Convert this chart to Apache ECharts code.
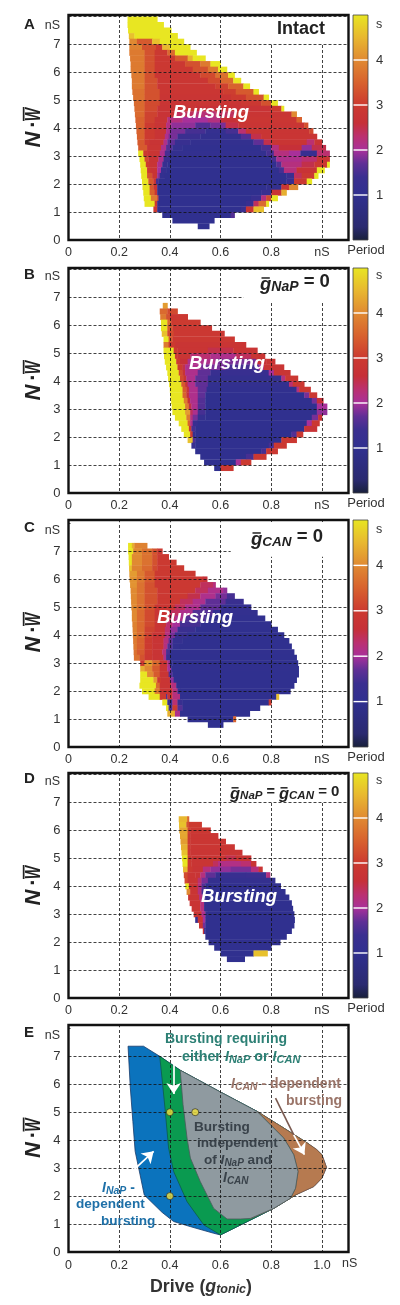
<!DOCTYPE html>
<html><head><meta charset="utf-8">
<style>html,body{margin:0;padding:0;background:#fff}#c{width:400px;height:1305px;filter:blur(.35px)}</style>
<script src="https://cdn.jsdelivr.net/npm/echarts@6/dist/echarts.min.js"></script>
</head><body><div id="c"></div>
<script>
// Row tables: [N*w row centre, x0, period, x1, period, x2, ...] -- each period spans the two drive values around it
const rowsA=[
[7.9,.233,5,.35],[7.7,.233,5,.375],[7.5,.235,5,.405],[7.3,.238,4.6,.26,5,.43],
[7.1,.24,4,.27,3.4,.33,4.6,.36,5,.455],[6.9,.24,3.9,.29,3.3,.345,3,.37,4.5,.40,5,.48],
[6.7,.24,3.8,.30,3.3,.34,2.95,.39,3.6,.42,5,.505],[6.5,.243,3.8,.30,3.3,.34,2.9,.42,3.4,.47,4.4,.49,5,.54],
[6.3,.245,3.8,.30,3.3,.34,2.9,.46,3.3,.52,3.8,.56,5,.60],[6.1,.245,3.8,.30,3.3,.34,2.9,.49,3.3,.55,3.8,.59,5,.625],
[5.9,.248,3.8,.30,3.3,.34,2.85,.52,3.2,.58,3.7,.63,5,.655],[5.7,.25,3.8,.30,3.3,.35,2.85,.55,3.2,.60,3.6,.65,5,.68],
[5.5,.25,3.8,.30,3.3,.35,2.85,.58,3.1,.63,3.5,.69,5,.715],[5.3,.252,3.7,.30,3.3,.36,2.85,.61,3.05,.66,3.4,.73,5,.75],
[5.1,.255,3.7,.30,3.3,.36,2.8,.64,3,.70,3.3,.77,5,.79],[4.9,.258,3.6,.30,3.2,.36,2.8,.68,2.9,.76,3.3,.80,5,.825],
[4.7,.26,3.6,.30,3.2,.35,2.75,.50,2.6,.60,2.7,.80,3,.84,5,.85],[4.5,.262,3.6,.30,3.1,.35,2.7,.42,2.4,.50,2.25,.58,2.4,.66,2.8,.88,4,.90],
[4.3,.264,3.5,.30,3.1,.34,2.75,.39,2.2,.45,2.0,.55,2.2,.60,2.6,.66,2.85,.90,3.5,.92],
[4.1,.266,3.5,.30,3,.34,2.75,.385,2.2,.405,1.9,.50,1.6,.56,1.8,.62,2.5,.67,2.8,.93,3.3,.945],
[3.9,.268,3.5,.30,3,.34,2.75,.385,2.1,.40,1.8,.46,1.5,.54,1.2,.62,1.5,.67,2.3,.70,2.8,.95,3.2,.965],
[3.7,.27,3.5,.30,3,.34,2.75,.38,2.1,.395,1.8,.43,1.4,.52,1.1,.68,1.6,.72,2.5,.76,2.8,.98],
[3.5,.272,3.4,.30,3,.32,2.75,.375,2.1,.39,1.7,.42,1.3,.48,1.1,.73,1.7,.77,2.5,.80,2.8,.94,2.3,.97,2.8,1.0],
[3.3,.275,3.4,.31,2.8,.365,2.1,.385,1.6,.41,1.2,.45,1.05,.76,1.5,.80,2.2,.83,2.6,.92,1.9,.96,2.5,1.015],
[3.1,.275,5,.295,3,.31,2.8,.36,2.1,.38,1.5,.40,1.1,.78,1.5,.81,2.2,.87,2.0,.915,1.3,.98,2.3,1.03],
[2.9,.28,5,.30,3.2,.315,2.75,.355,2.1,.375,1.4,.40,1.05,.80,1.5,.82,2.1,.92,2.3,.98,2.8,1.03],
[2.7,.283,5,.305,3,.32,2.75,.35,2.1,.37,1.3,.39,1.05,.82,1.6,.84,2.2,.92,2.5,.97,2.9,1.02,5,1.03],
[2.5,.285,5,.31,2.9,.325,2.75,.35,2.0,.365,1.2,.385,1.0,.83,1.5,.85,2.2,.90,2.7,.98,5,1.01],
[2.3,.287,5,.31,3.3,.33,2.75,.35,1.9,.36,1.1,.38,1.0,.86,1.4,.89,2.4,.92,2.9,.97,5,.985],
[2.1,.29,5,.315,3.4,.335,2.8,.345,1.5,.355,1.0,.86,1.3,.89,2.9,.94,5,.96],
[1.9,.292,5,.32,3.4,.335,2.8,.35,1.0,.78,1.1,.84,2.8,.87,4,.905],[1.7,.295,5,.32,3.5,.34,2.8,.35,1.0,.76,1.3,.80,2.8,.84,4.4,.86],
[1.5,.297,5,.325,3.8,.35,2.9,.355,1.0,.72,1.3,.76,2.2,.78,3.2,.80,5,.825],[1.3,.30,5,.34,2.9,.35,1.1,.36,1.0,.70,1.3,.73,2.4,.75,3.6,.78,5,.79],
[1.1,.335,3,.35,1.0,.68,1.4,.70,2.8,.73,4.6,.77],[.9,.37,1,.64,1.6,.655],[.7,.41,1,.575],[.5,.51,1,.555]];
const rowsB=[
[6.7,.372,4.2,.39],[6.5,.36,3.6,.39,3.2,.43],[6.3,.362,3.8,.385,3.3,.40,2.9,.47],[6.1,.365,5,.39,3.6,.405,3,.52],
[5.9,.365,5,.39,3.4,.41,2.9,.565],[5.7,.368,4.6,.39,3.2,.415,2.9,.615],[5.5,.375,5,.395,3.4,.41,2.9,.655],[5.3,.375,3.8,.395,3,.42,2.8,.70],
[5.1,.375,5,.415,3,.43,2.8,.55,2.5,.65,2.8,.745],[4.9,.377,5,.42,3,.43,2.8,.48,2.3,.56,2.1,.66,2.4,.72,2.8,.775],
[4.7,.38,5,.425,3,.44,2.6,.47,2.1,.58,1.8,.68,1.8,.74,2.6,.78,2.8,.815],[4.5,.385,5,.43,3,.45,2.5,.46,2.1,.52,1.8,.62,1.5,.75,2.0,.77,2.8,.85],
[4.3,.39,5,.435,3.2,.45,2.7,.46,2.1,.51,1.7,.56,1.3,.79,2,.81,2.8,.875],[4.1,.393,5,.44,3.2,.455,2.7,.465,2.1,.50,1.7,.55,1.15,.84,2.2,.855,2.9,.905],
[3.9,.397,5,.445,3.4,.46,2.7,.47,2.1,.50,1.7,.55,1.1,.87,2.3,.885,2.9,.93],[3.7,.40,5,.45,3.4,.465,2.7,.475,2.1,.51,1.7,.545,1.05,.90,2.2,.91,2.9,.955],
[3.5,.402,5,.45,3.5,.465,2.6,.475,2.1,.51,1.7,.54,1.0,.93,1.8,.95,2.9,.98],[3.3,.405,5,.455,3.8,.47,2.6,.48,2.1,.51,1.6,.54,1.0,.96,1.8,.98,2.6,1.005],
[3.1,.407,5,.46,3.8,.475,2.5,.485,2.1,.51,1.6,.54,1.0,.98,2.0,1.02],[2.9,.41,5,.46,4.2,.48,2.4,.49,2.1,.51,1.5,.54,1.0,.98,1.9,1.02],
[2.7,.42,5,.465,3.8,.48,2.2,.49,1.8,.51,1.2,.54,1.0,.96,1.8,.985,2.7,1.0],[2.5,.435,5,.47,3.5,.48,2.1,.49,1.3,.51,1.0,.94,2.0,.96,2.9,.99],
[2.3,.445,5,.475,2.9,.485,1.5,.50,1.0,.93,2.7,.98],[2.1,.455,5,.48,3,.49,1.2,.50,1.0,.88,1.6,.90,2.9,.925],
[1.9,.47,4.6,.49,1.6,.50,1,.84,2.9,.90],[1.7,.485,1.3,.50,1,.79,1.5,.81,2.9,.86],[1.5,.50,1,.76,1.5,.78,2.9,.825],
[1.3,.52,1,.70,1.5,.73,2.9,.78],[1.1,.535,1,.66,2.0,.68,3,.72],[.9,.575,1,.60,2.9,.65]];
const rowsC=[
[7.2,.235,5,.25,4.4,.26,3.9,.31],[7.0,.235,5,.255,4,.29,3.7,.33,3.3,.35,2.95,.37],[6.8,.237,5,.25,4,.29,3.7,.33,3.3,.35,2.95,.395],
[6.6,.238,5,.25,4,.29,3.7,.33,3.3,.35,2.95,.425],[6.4,.239,4.6,.25,3.9,.29,3.6,.33,3.2,.35,2.95,.455],[6.2,.24,4.2,.27,3.8,.30,3.4,.34,2.95,.50],
[6.0,.241,4.1,.27,3.8,.30,3.4,.34,2.9,.53,2.6,.547],[5.8,.243,4.1,.27,3.7,.30,3.3,.34,2.9,.52,2.4,.57,2.2,.58],
[5.6,.245,4,.27,3.7,.30,3.3,.35,2.9,.50,2.4,.55,2.1,.61,1.9,.625],[5.4,.246,4,.27,3.7,.30,3.3,.35,2.9,.47,2.5,.52,2.1,.58,1.8,.625,1.5,.655],
[5.2,.247,4,.27,3.7,.30,3.3,.35,2.9,.44,2.4,.49,2.1,.54,1.7,.62,1.35,.69],[5.0,.248,4,.27,3.7,.30,3.3,.34,2.85,.42,2.4,.46,2.1,.52,1.7,.60,1.2,.72],
[4.8,.25,4,.27,3.6,.30,3.2,.34,2.8,.40,2.4,.44,2.1,.49,1.6,.57,1.1,.745],[4.6,.25,4,.27,3.6,.30,3.2,.34,2.8,.39,2.4,.42,2.1,.46,1.6,.54,1.05,.775],
[4.4,.252,3.9,.27,3.6,.30,3.2,.34,2.8,.385,2.3,.41,2.0,.44,1.5,.52,1.0,.80],[4.2,.253,3.9,.27,3.6,.30,3.1,.34,2.8,.38,2.3,.40,1.9,.43,1.4,.50,1.0,.825],
[4.0,.254,3.9,.27,3.6,.30,3.1,.33,2.75,.38,2.2,.40,1.8,.42,1.3,.47,1,.85],[3.8,.255,3.8,.27,3.5,.30,3,.33,2.75,.375,2.2,.395,1.7,.41,1.2,.45,1,.87],
[3.6,.256,3.8,.27,3.5,.30,3,.33,2.75,.375,2.2,.39,1.6,.41,1.1,.44,1,.88],[3.4,.257,3.7,.27,3.4,.30,3,.33,2.75,.37,2.2,.385,1.5,.40,1.05,.89],
[3.2,.258,3.7,.28,3.3,.30,2.9,.33,2.75,.375,2.1,.385,1.3,.40,1,.90],[3.0,.283,3,.30,4.2,.33,3.6,.36,2.8,.39,2.1,.40,1.1,.41,1,.905],
[2.8,.283,4.4,.30,4,.33,3.4,.36,2.8,.39,2,.405,1.05,.908],[2.6,.283,5,.31,4,.335,3.4,.36,2.8,.395,1.6,.41,1,.908],
[2.4,.283,5,.335,4.2,.35,3,.365,2.8,.40,1.9,.415,1,.90],[2.2,.28,5,.345,3.6,.36,2.8,.405,2.2,.425,1,.89],
[2.0,.29,5,.34,3.8,.36,2.8,.41,2.2,.43,1.3,.44,1,.875],[1.8,.316,5,.36,3,.385,1.5,.39,2.8,.41,2.2,.44,1,.82,4.6,.83],
[1.6,.37,5,.39,1.3,.41,2.3,.43,1.3,.45,1,.79,3,.80],[1.4,.385,5,.395,1.5,.41,3,.43,1.6,.45,1,.755],
[1.2,.39,4.4,.42,2.1,.44,1,.715],[1.0,.47,1,.65,3.5,.66],[.8,.55,1,.61]];
const rowsD=[
[6.4,.435,4.5,.468,3.6,.475],[6.2,.436,4.6,.465,3.3,.475,3,.525],[6.0,.437,4.3,.47,3.1,.48,2.9,.56],[5.8,.44,4.3,.47,3,.48,2.85,.59],
[5.6,.442,4.2,.47,3,.48,2.85,.62],[5.4,.444,4.4,.47,3,.48,2.85,.655],[5.2,.446,4.6,.47,3,.48,2.8,.685],[5.0,.448,5,.47,2.9,.485,2.8,.62,2.5,.66,2.8,.72],
[4.8,.45,5,.47,2.9,.485,2.8,.57,2.4,.59,2.15,.68,2.3,.72,2.8,.74],[4.6,.452,4.5,.47,2.9,.49,2.75,.53,2.2,.56,1.9,.64,1.8,.72,2.2,.75,2.8,.765],
[4.4,.455,3.2,.47,2.8,.50,2.75,.52,2.2,.54,1.7,.58,1.3,.70,1.4,.78,2.2,.795],[4.2,.458,3.2,.47,2.8,.51,2.3,.525,1.8,.55,1.15,.815],
[4.0,.461,5,.475,2.8,.51,2.2,.525,1.6,.54,1.05,.837],[3.8,.466,4,.48,2.8,.51,2.2,.525,1.5,.535,1,.855],[3.6,.472,2.8,.515,2.2,.53,1.3,.54,1,.87],
[3.4,.478,2.8,.52,2.2,.535,1.1,.55,1,.88],[3.2,.486,2.8,.52,2.2,.535,1.1,.55,1,.885],[3.0,.494,2.8,.525,2.1,.54,1.1,.55,1,.89],
[2.8,.50,1.1,.51,2.8,.53,2.0,.54,1,.892],[2.6,.515,2.8,.53,1.8,.54,1,.89],[2.4,.53,2.6,.535,1.3,.54,1,.88],[2.2,.54,1,.86],[2.0,.553,1,.835],
[1.8,.575,1,.80],[1.6,.60,1,.73,4.6,.785],[1.4,.625,1,.695]];
// Panel E regions as [drive, N*w] vertices
const regionOutline=[[.235,7.36],[.296,7.36],[.36,7.0],[.441,6.5],[.6,5.72],[.744,5.03],[.85,4.43],[.942,3.9],[.98,3.66],[1.0,3.48],[1.018,3.03],[1.0,2.64],[.968,2.34],[.896,2.04],[.81,1.56],[.711,1.11],[.6,.61],[.573,.67],[.48,.91],[.415,1.09],[.369,1.42],[.299,2.04],[.277,3.0],[.263,3.6],[.254,4.67],[.244,5.87]];
const regionGreen=[[.36,7.0],[.441,6.5],[.6,5.72],[.744,5.03],[.85,4.43],[.942,3.9],[1.0,3.48],[1.0,2.64],[.896,2.04],[.81,1.56],[.711,1.11],[.6,.61],[.534,.97],[.468,1.8],[.415,2.88],[.395,3.72],[.382,5.03],[.369,6.22]];
const regionBrown=[[.744,5.03],[.85,4.43],[.942,3.9],[.98,3.66],[1.0,3.48],[1.018,3.03],[1.0,2.64],[.968,2.34],[.896,2.04],[.81,1.56],[.718,1.2],[.8,1.6],[.876,1.92],[.896,2.28],[.906,2.88],[.889,3.48],[.85,4.07],[.797,4.55]];
const regionGray=[[.441,6.5],[.6,5.72],[.744,5.03],[.797,4.55],[.85,4.07],[.889,3.48],[.906,2.88],[.896,2.28],[.876,1.92],[.81,1.56],[.718,1.2],[.679,1.18],[.626,1.18],[.573,1.56],[.52,2.52],[.481,3.36],[.468,4.07],[.452,5.27]];
const markerPoints=[[.4,5],[.5,5],[.4,2]];
const arrowLines=[[[.415,6.95],[.415,5.65]],[[.889,4.19],[.931,3.48]],[[.215,2.58],[.336,3.6]]];
const leaderLine=[[.817,5.5],[.889,4.19]];
const xTicks=[0,.2,.4,.6,.8,1.0];
const periodTicks=[1,2,3,4];
const periodStops=[[0,'#18203a'],[.3,'#2a2a70'],[1,'#30308f'],[1.4,'#3a2f90'],[1.7,'#5f2f96'],[2,'#a8309a'],[2.3,'#bb3070'],[2.6,'#c63038'],[3,'#cc3a30'],[3.5,'#d8622e'],[4,'#e08a32'],[4.5,'#e8b830'],[5,'#e8e622']];

const panelTops=[15,268,520,773,1025], panelHeights=[225,225,227,225,227];
const gridLeft=68.5, gridW=280, xMax=1.105, unitY=27.96;
const FONT='"Liberation Sans",Arial,sans-serif';
const hex=c=>[1,3,5].map(i=>parseInt(c.substr(i,2),16));
function periodColor(p){
  for(let i=1;i<periodStops.length;i++){
    const [a,ca]=periodStops[i-1],[b,cb]=periodStops[i];
    if(p<=b){const t=(p-a)/(b-a),A=hex(ca),B=hex(cb);
      return 'rgb('+A.map((v,k)=>Math.round(v+(B[k]-v)*t)).join(',')+')';}
  }
  return periodStops[periodStops.length-1][1];
}
const cellsOf=rows=>{const out=[];rows.forEach(r=>{for(let i=1;i+2<r.length;i+=2)out.push([r[i],r[i+2],r[0],r[i+1]]);});return out;};

const grids=[],xAxes=[],yAxes=[],series=[],graphics=[];
const ctx=document.createElement('canvas').getContext('2d');
function txt(s,x,y,size,o={}){
  graphics.push({type:'text',z:50,x,y,rotation:o.rot||0,scaleX:o.sx||1,silent:true,style:{text:s,fill:o.color||'#333',
    font:(o.style||'')+' '+size+'px '+FONT,textAlign:o.align||'left',textVerticalAlign:'middle',verticalAlign:'middle',align:o.align||'left'}});
}
function seq(x,y,toks,color){ // tokens: [text,size,style,dy,bar]
  let cx=x;
  toks.forEach(t=>{
    ctx.font=(t[2]||'')+' '+t[1]+'px "Liberation Sans"';
    const w=ctx.measureText(t[0]).width;
    txt(t[0],cx,y+(t[3]||0),t[1],{style:t[2],color});
    if(t[4])graphics.push({type:'rect',z:50,silent:true,shape:{x:cx+1.5,y:y+(t[3]||0)-t[1]*.42,width:w-3,height:1.5},style:{fill:color}});
    cx+=w;
  });
}
const baseX=(i,last)=>({gridIndex:i,type:'value',min:0,max:xMax,interval:.2,z:5,
  axisLine:{show:false},axisTick:{show:false},
  splitLine:{show:true,lineStyle:{color:'#111',width:.8,type:[3,2]}},
  axisLabel:{color:'#333',fontFamily:FONT,fontSize:12.5,margin:last?7:6,hideOverlap:false,showMaxLabel:false,showMinLabel:true,
    formatter:v=>{const k=xTicks.find(t=>Math.abs(t-v)<1e-6);if(k===undefined)return '';if(k===0)return '0';if(k===1)return last?'1.0':'nS';return k.toFixed(1);}}});

const tables=[rowsA,rowsB,rowsC,rowsD];
const letters=['A','B','C','D','E'];
const letterY=[25,275,528,779,1033], nsY=[26,277,531,782,1036], ncY=[127.5,380.5,632.5,885.5,1138];
const burstPos=[[173,113],[189,364],[157,618],[201,897]];
const maskRect=[[.7,7.05],[.69,6.85],[.64,6.8],[.72,7.05]];
panelTops.forEach((top,i)=>{
  const h=panelHeights[i],last=i===4;
  grids.push({left:gridLeft,top,width:gridW,height:h,show:true,borderColor:'#111',borderWidth:2.4,backgroundColor:'#fff'});
  xAxes.push(baseX(grids.length-1,last));
  yAxes.push({gridIndex:grids.length-1,type:'value',min:0,max:h/unitY,interval:1,z:5,
    axisLine:{show:false},axisTick:{show:false},
    splitLine:{show:true,lineStyle:{color:'#111',width:.8,type:[3,2]}},
    axisLabel:{color:'#333',fontFamily:FONT,fontSize:13,margin:8,showMaxLabel:false,formatter:v=>Number.isInteger(v)&&v<=7?String(v):''}});
  const gi=grids.length-1;
  if(h>225) // hide the stray gridline at the unlabelled top tick
    graphics.push({type:'rect',z:10,silent:true,shape:{x:gridLeft+2,y:top+h-8*unitY-1,width:gridW-4,height:2},style:{fill:'#fff'}});
  if(!last){
    series.push({type:'custom',xAxisIndex:gi,yAxisIndex:gi,z:2,silent:true,clip:true,animation:false,data:cellsOf(tables[i]),
      renderItem:(p,api)=>{
        const a=api.coord([api.value(0),api.value(2)+.1]),b=api.coord([api.value(1),api.value(2)-.1]);
        return {type:'rect',shape:{x:a[0],y:a[1],width:b[0]-a[0]+.4,height:b[1]-a[1]+.4},style:{fill:periodColor(api.value(3))}};
      }});
    // white panel behind the title text
    const mx=gridLeft+maskRect[i][0]/xMax*gridW, my=top+h-maskRect[i][1]*unitY;
    graphics.push({type:'rect',z:10,silent:true,shape:{x:mx,y:top+2,width:gridLeft+gridW-mx-1.5,height:my-top-2},style:{fill:'#fff'}});
  } else {
    const poly=(pts,fill,stroke)=>series.push({type:'custom',xAxisIndex:gi,yAxisIndex:gi,z:2,silent:true,animation:false,data:[0],
      renderItem:(p,api)=>({type:'polygon',shape:{points:pts.map(q=>api.coord(q))},style:{fill,stroke,lineWidth:.8}})});
    poly(regionOutline,'#0b73bd','#173a6b');
    poly(regionGreen,'#0a9a50','#0d5c4a');
    poly(regionBrown,'#b67a50','#8a5c40');
    poly(regionGray,'#8f9aa0','#4b5a5c');
    series.push({type:'lines',coordinateSystem:'cartesian2d',xAxisIndex:gi,yAxisIndex:gi,z:8,silent:true,animation:false,
      symbol:['none','none'],lineStyle:{color:'#7a5a50',width:1.6,opacity:1,curveness:0},data:[{coords:leaderLine}]});
    series.push({type:'lines',coordinateSystem:'cartesian2d',xAxisIndex:gi,yAxisIndex:gi,z:8,silent:true,animation:false,
      symbol:['none','arrow'],symbolSize:[0,11],lineStyle:{color:'#fff',width:1.7,opacity:1,curveness:0},data:arrowLines.map(c=>({coords:c}))});
    series.push({type:'scatter',xAxisIndex:gi,yAxisIndex:gi,z:9,silent:true,animation:false,symbolSize:7,
      itemStyle:{color:'#f2e23c',borderColor:'#222',borderWidth:.8},data:markerPoints});
  }
  txt(letters[i],24,letterY[i],15,{style:'bold',color:'#222'});
  txt('nS',60,nsY[i],12.5,{align:'right'});
  // y axis title N.w with overbar, reading upward
  const c=ncY[i],R=Math.PI/2;
  txt('N',34,c+12,22,{style:'italic bold',rot:R,align:'center',color:'#222'});
  txt('·',34,c-3.5,22,{style:'bold',rot:R,align:'center',color:'#222'});
  txt('W',34,c-13,22,{style:'italic bold',rot:R,align:'center',color:'#222',sx:.64});
  graphics.push({type:'rect',z:50,silent:true,shape:{x:22.8,y:c-20.5,width:1.7,height:14},style:{fill:'#222'}});
  if(!last){
    // colour bar
    grids.push({left:353,top,width:15,height:h,show:false});
    const ci=grids.length-1;
    xAxes.push({gridIndex:ci,type:'value',min:0,max:1,show:false});
    yAxes.push({gridIndex:ci,type:'value',min:0,max:5,interval:1,position:'right',axisLine:{show:false},axisTick:{show:false},splitLine:{show:false},
      axisLabel:{color:'#333',fontFamily:FONT,fontSize:13,margin:8,showMinLabel:false,showMaxLabel:false,formatter:v=>periodTicks.includes(v)?String(v):''}});
    series.push({type:'custom',xAxisIndex:ci,yAxisIndex:ci,silent:true,animation:false,z:2,data:[0],
      renderItem:(p,api)=>{
        const a=api.coord([0,5]),b=api.coord([1,0]);
        const stops=periodStops.map(s=>({offset:1-s[0]/5,color:s[1]})).reverse();
        return {type:'group',children:[
          {type:'rect',shape:{x:a[0],y:a[1],width:b[0]-a[0],height:b[1]-a[1]},
           style:{stroke:'#444',lineWidth:.8,fill:{type:'linear',x:0,y:0,x2:0,y2:1,colorStops:stops}}}
        ].concat(periodTicks.map(t=>{const q=api.coord([0,t]);
          return {type:'rect',shape:{x:a[0]+.5,y:q[1]-.7,width:b[0]-a[0]-1,height:1.4},style:{fill:'#fff'}};}))};
      }});
    txt('s',379,nsY[i]-1,12.5,{align:'center'});
    txt('Period',366,top+h+10.5,13,{align:'center'});
    const b=burstPos[i];
    txt('Bursting',b[0],b[1],18.5,{style:'italic bold',color:'#fff'});
  }
});

// Panel titles
txt('Intact',277,29,18,{style:'bold',color:'#222'});
const GI='italic bold',B='bold';
seq(260,282,[['g',18.5,GI,3,1],['NaP',14,GI,5],[' = 0',18.5,B]],'#222');
seq(251,537,[['g',18.5,GI,3,1],['CAN',13.5,GI,5],[' = 0',18.5,B]],'#222');
seq(230,792,[['g',16.5,GI,2,1],['NaP',11.5,GI,4],[' = ',14.5,B],['g',16.5,GI,2,1],['CAN',11.5,GI,4],[' = 0',15,B]],'#222');

// Panel E labels
const teal='#2d8075',grey='#39424a',brn='#9a7468',blu='#1e70a8';
txt('Bursting requiring',165,1039,14,{style:B,color:teal});
seq(182,1057,[['either ',14.3,B],['I',14.3,GI],['NaP',11,GI,3],[' or ',14.3,B],['I',14.3,GI],['CAN',11,GI,3]],teal);
txt('Bursting',194,1127,13.6,{style:B,color:grey});
txt('independent',197,1143,13.6,{style:B,color:grey});
seq(204,1160,[['of ',13.6,B],['I',13.6,GI],['NaP',10,GI,3],[' and',13.6,B]],grey);
seq(223,1178,[['I',14,GI],['CAN',10,GI,3]],grey);
seq(231,1084,[['I',14,GI],['CAN',10.5,GI,3],[' - dependent',14,B]],brn);
txt('bursting',342,1101,14,{style:B,color:brn,align:'right'});
seq(102,1188,[['I',14,GI],['NaP',10.5,GI,3],[' -',14,B]],blu);
txt('dependent',76,1204,13.6,{style:B,color:blu});
txt('bursting',101,1221,13.6,{style:B,color:blu});
txt('nS',342,1264,12.5);
seq(150,1287,[['Drive (',17.8,B],['g',17.8,GI],['tonic',12.5,GI,3],[')',17.8,B]],'#333');

const chart=echarts.init(document.getElementById('c'),null,{renderer:'canvas'});
chart.setOption({animation:false,backgroundColor:'#fff',grid:grids,xAxis:xAxes,yAxis:yAxes,series,graphic:{elements:graphics}});
</script></body></html>
